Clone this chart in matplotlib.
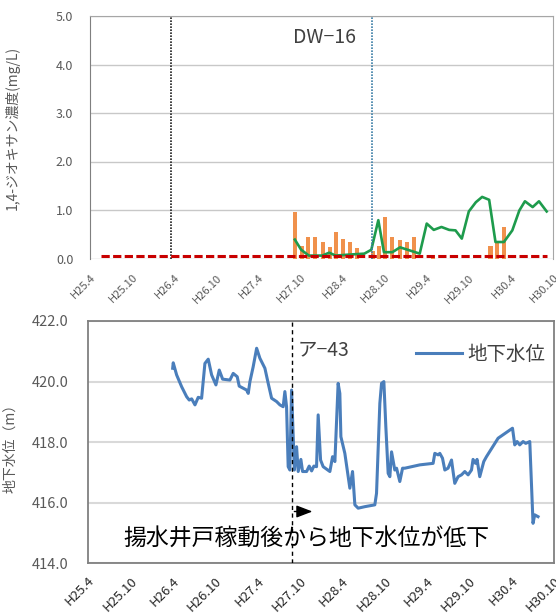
import matplotlib
matplotlib.use("Agg")
import matplotlib.pyplot as plt

plt.rcParams["font.family"] = ["Noto Sans CJK JP", "DejaVu Sans"]

# months counted from H25.4
tick_months = list(range(0, 67, 6))
tick_labels = ["H25.4", "H25.10", "H26.4", "H26.10", "H27.4", "H27.10",
               "H28.4", "H28.10", "H29.4", "H29.10", "H30.4", "H30.10"]

# DW-16: 1,4-dioxane concentration (mg/L)
bar_months = [29.2, 30.2, 31.1, 32.1, 33.2, 34.2, 35.1, 36.1, 37.1, 38.1,
              40.3, 41.2, 42.0, 43.1, 44.2, 45.2, 46.2, 48.9, 57.1, 58.0, 59.0]
bar_values = [0.96, 0.25, 0.44, 0.44, 0.34, 0.23, 0.54, 0.41, 0.35, 0.21,
              0.15, 0.25, 0.85, 0.44, 0.39, 0.35, 0.45, 0.08, 0.25, 0.35, 0.65]

conc_months = [29.2, 30.1, 31.2, 33.1, 34.1, 35.0, 36.9, 39.1, 40.1, 41.1,
               41.9, 43.1, 44.2, 45.5, 47.0, 48.0, 49.0, 50.1, 51.2, 52.1,
               53.0, 54.0, 55.0, 55.9, 56.9, 57.8, 59.0, 60.2, 61.2, 62.0,
               63.1, 64.0, 65.1]
conc_values = [0.39, 0.18, 0.06, 0.06, 0.12, 0.06, 0.08, 0.10, 0.18, 0.79,
               0.13, 0.13, 0.23, 0.17, 0.10, 0.72, 0.59, 0.65, 0.59, 0.58,
               0.41, 0.97, 1.16, 1.27, 1.21, 0.34, 0.34, 0.58, 0.99, 1.18,
               1.06, 1.18, 0.97]

standard_months = [1.6, 65.2]
standard_values = [0.05, 0.05]

# ア-43: groundwater level (m)
level_months = [12.0, 12.08, 12.56, 13.27, 13.98, 14.35, 14.69, 15.16, 15.62, 16.10,
                16.57, 17.04, 17.52, 18.13, 18.60, 19.08, 20.11, 20.58, 21.15, 21.43,
                22.48, 22.71, 22.95, 23.41, 23.90, 24.36, 25.07, 25.54, 26.02, 26.73,
                27.20, 27.66, 27.90, 28.14, 28.37, 28.61, 28.85, 29.25, 29.56, 29.79,
                30.17, 30.41, 30.98, 31.35, 31.69, 32.01, 32.39, 32.62, 32.96, 33.33,
                34.28, 34.66, 34.99, 35.45, 35.69, 35.84, 36.40, 37.11, 37.49, 37.58,
                37.82, 38.29, 39.24, 40.65, 40.89, 41.36, 41.60, 41.93, 42.21, 42.54,
                42.78, 43.02, 43.48, 43.73, 44.19, 44.58, 44.90, 47.03, 48.91, 49.15,
                49.62, 49.86, 50.24, 50.57, 51.03, 51.52, 51.74, 51.98, 52.45, 52.93,
                53.40, 53.87, 54.35, 54.57, 54.92, 55.14, 55.52, 56.09, 56.47, 58.12,
                60.16, 60.48, 60.81, 61.19, 61.66, 62.04, 62.61, 63.07, 63.31, 63.78]
level_values = [420.44, 420.62, 420.22, 419.83, 419.50, 419.39, 419.43, 419.23, 419.48, 419.45,
                420.60, 420.74, 420.22, 419.89, 420.38, 420.08, 420.05, 420.27, 420.16, 419.85,
                419.72, 419.61, 420.00, 420.49, 421.10, 420.77, 420.44, 419.94, 419.45, 419.34,
                419.23, 419.17, 419.67, 419.17, 417.19, 417.08, 419.72, 417.08, 417.85, 417.03,
                417.43, 417.03, 417.03, 417.21, 417.05, 417.21, 417.19, 418.90, 417.41, 417.19,
                417.03, 417.52, 417.36, 419.94, 419.61, 418.18, 417.63, 416.48, 417.03, 416.75,
                415.93, 415.82, 415.87, 415.93, 416.31, 419.28, 419.94, 420.00, 418.51, 416.97,
                416.86, 417.68, 417.08, 417.14, 416.70, 417.14, 417.14, 417.25, 417.30, 417.63,
                417.58, 417.63, 417.47, 417.08, 417.14, 417.41, 417.03, 416.64, 416.86, 416.92,
                417.03, 416.92, 417.08, 417.43, 417.30, 417.43, 416.86, 417.36, 417.52, 418.13,
                418.46, 417.91, 418.02, 417.91, 418.02, 417.96, 418.02, 415.32, 415.60, 415.54]

W, H = 556, 613
fig = plt.figure(figsize=(W / 100, H / 100), dpi=100)

# ---- upper panel: concentration ----
ax1 = fig.add_axes([90 / W, 1 - 258.5 / H, 463 / W, 242.5 / H])
ax1.set_xlim(0, 66)
ax1.set_ylim(0, 5)
ax1.set_yticks([0, 1, 2, 3, 4, 5])
ax1.set_yticklabels([f"{v:.1f}" for v in range(6)])
ax1.grid(axis="y", color="#C8C8C8", lw=1.0, zorder=0)
ax1.set_axisbelow(True)
ax1.bar(bar_months, bar_values, width=0.6, color="#F0914C", zorder=2)
ax1.plot(conc_months, conc_values, color="#1E9B4C", lw=1.9, zorder=3)
ax1.plot(standard_months, standard_values, color="#C80000", lw=2.2,
         ls=(0, (2.7, 1.1)), zorder=4)
ax1.axvline(11.5, color="#202020", lw=1.2, ls=(0, (1, 0.8)), zorder=3)
ax1.axvline(40.2, color="#3C7EA6", lw=1.2, ls=(0, (1, 0.8)), zorder=3)
ax1.text(28.9, 4.55, "DW−16", fontsize=14, color="#404040", ha="left", va="center")
ax1.set_xticks(tick_months)
ax1.set_xticklabels(tick_labels, rotation=45, ha="right", va="top",
                    rotation_mode="anchor", fontsize=8, color="#595959")
ax1.tick_params(axis="x", length=0, pad=10)
ax1.tick_params(axis="y", length=0, pad=12, labelsize=9, labelcolor="#595959")
for side in ["top", "right"]:
    ax1.spines[side].set_color("#A6A6A6")
ax1.spines["left"].set_color("#7F7F7F")
ax1.spines["bottom"].set_visible(False)
ax1.set_ylabel("1,4-ジオキサン濃度(mg/L)", fontsize=10, color="#595959")
ax1.yaxis.set_label_coords(-0.151, 0.54)

# ---- lower panel: groundwater level ----
ax2 = fig.add_axes([88 / W, 1 - 563.3 / H, 465.7 / W, 242.3 / H])
ax2.set_xlim(0, 66)
ax2.set_ylim(414, 422)
ax2.set_yticks([414, 416, 418, 420, 422])
ax2.set_yticklabels([f"{v:.1f}" for v in [414, 416, 418, 420, 422]])
ax2.grid(axis="y", color="#D9D9D9", lw=1.5, zorder=0)
ax2.set_axisbelow(True)
ax2.plot(level_months, level_values, color="#4A7EBB", lw=2.2, label="地下水位", zorder=3)
ax2.axvline(28.85, color="black", lw=1.0, ls=(0, (3, 2.5)), zorder=4)
ax2.annotate("", xy=(32.2, 415.71), xytext=(28.85, 415.71),
             arrowprops=dict(arrowstyle="-|>,head_length=0.65,head_width=0.25",
                             color="black", lw=1.0, mutation_scale=15))
ax2.text(4.96, 414.83, "揚水井戸稼動後から地下水位が低下", fontsize=16.5,
         color="black", ha="left", va="center")
ax2.text(29.7, 421.04, "ア−43", fontsize=14, color="#404040", ha="left", va="center")
leg = ax2.legend(loc="center right", bbox_to_anchor=(0.981, 0.8626), frameon=False,
                 fontsize=14, handlelength=2.37, handletextpad=0.27,
                 borderpad=0, borderaxespad=0)
for t in leg.get_texts():
    t.set_color("#404040")
ax2.set_xticks(tick_months)
ax2.set_xticklabels(tick_labels, rotation=45, ha="right", va="top",
                    rotation_mode="anchor", fontsize=9.5, color="#262626")
ax2.tick_params(axis="x", length=0, pad=8)
ax2.tick_params(axis="y", length=0, pad=14, labelsize=10.5, labelcolor="#595959")
for side in ax2.spines.values():
    side.set_color("#808080")
    side.set_linewidth(1.3)
ax2.set_ylabel("地下水位（m）", fontsize=10, color="#595959")
ax2.yaxis.set_label_coords(-0.152, 0.49)

fig.savefig("out.png", dpi=100)
